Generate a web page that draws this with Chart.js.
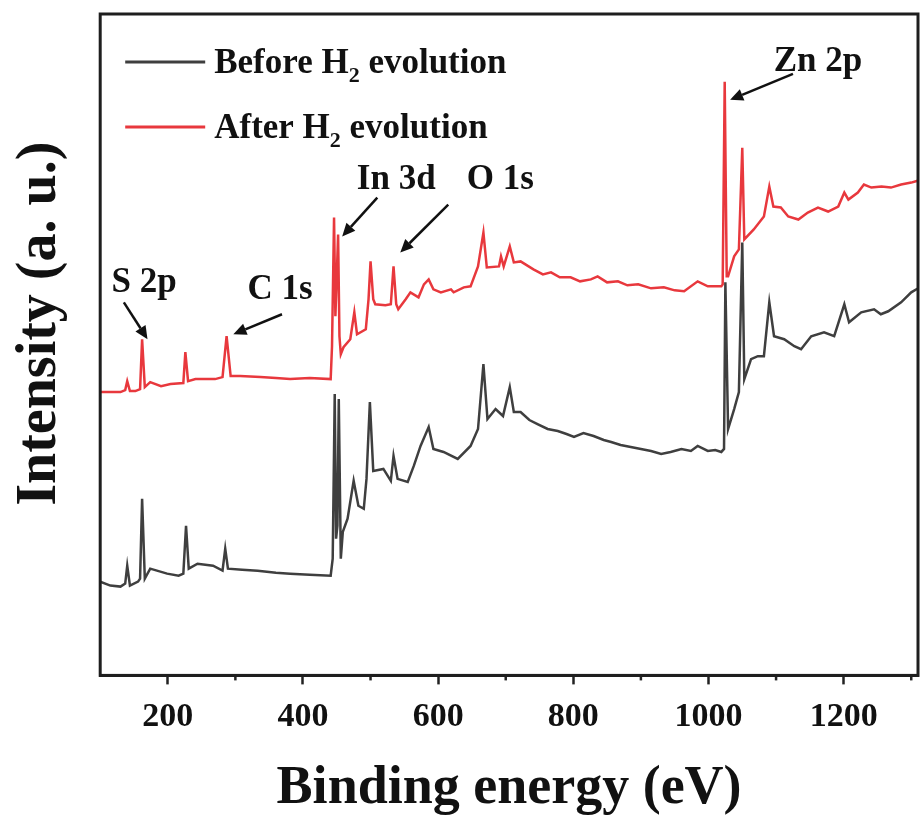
<!DOCTYPE html>
<html>
<head>
<meta charset="utf-8">
<script src="https://cdn.jsdelivr.net/npm/chart.js@4.4.1/dist/chart.umd.min.js"></script>
<style>
  html, body { margin: 0; padding: 0; background: #ffffff; }
  #wrap { width: 921px; height: 821px; position: relative; }
</style>
</head>
<body>
<div id="wrap"><canvas id="c" width="921" height="821"></canvas></div>
<script>
// ---- data ----
const beforeEnergy = [100,115,130,137,140,144,156,159,162,166,174,199,216,223,227,231,244,267,281,285,289,310,333,360,381,410,441,444,447,449,451,453,456,459,466,475,482,490,494,499,504,519,530,534,540,555,564,574,586,593,608,629,648,659,667,673,685,696,706,712,722,735,747,762,777,790,801,815,830,845,856,870,885,900,915,930,944,960,974,984,999,1010,1019,1023,1025,1029,1038,1045,1050,1053,1063,1073,1082,1090,1097,1112,1127,1137,1152,1171,1186,1201,1208,1226,1245,1255,1266,1285,1300,1315];
const beforeIntensity = [94,90,89,92,110,90,94,97,177,97,107,102,100,102,150,107,112,110,105,127,107,106,105,103,102,101,100,117,282,137,150,277,117,144,157,195,170,167,197,274,205,207,195,220,197,194,210,230,249,227,224,217,230,247,312,257,267,260,289,264,264,256,252,247,245,242,239,243,240,236,234,231,229,227,225,222,224,227,225,230,225,226,224,227,394,247,267,284,434,297,317,320,320,374,340,337,330,327,340,344,340,372,354,364,367,362,365,374,384,390];

const afterEnergy = [100,130,137,140,144,152,159,162,166,174,190,204,223,226,230,241,270,281,287,293,307,337,360,381,410,441,443,446,448,450,452,454,456,460,470,476,480,493,497,500,504,507,522,530,534,538,541,552,559,571,579,586,593,604,619,623,638,648,659,667,672,690,693,697,706,712,722,741,755,767,780,796,810,826,836,850,866,880,896,915,934,950,964,984,999,1019,1021,1024,1027,1029,1038,1045,1050,1053,1067,1082,1090,1096,1107,1118,1133,1147,1162,1177,1192,1201,1207,1221,1230,1241,1256,1270,1285,1300,1315];
const afterIntensity = [284,284,286,295,285,285,287,337,289,294,290,292,293,324,295,297,297,299,340,300,300,299,298,297,298,297,330,459,360,400,442,340,322,329,337,364,342,347,377,415,377,372,371,372,410,372,367,377,384,379,392,397,387,384,387,384,389,390,410,444,409,410,420,410,430,414,415,407,402,404,399,399,395,397,400,394,395,391,392,388,389,386,385,395,390,390,392,595,400,400,420,427,529,437,447,460,490,470,469,460,457,464,469,465,470,484,477,484,492,489,490,489,492,494,497];

const seriesNames = ['Before H2 evolution', 'After H2 evolution'];
const majorTicks = [200, 400, 600, 800, 1000, 1200];
const minorTicks = [300, 500, 700, 900, 1100, 1300];
const peakNames = ['S 2p', 'C 1s', 'In 3d', 'O 1s', 'Zn 2p'];

// ---- styling / placement (not data) ----
const COLORS = ['#3f3f3f', '#e8383d'];
const SERIF = '"Liberation Serif", "Times New Roman", serif';
// label centre, arrow start, arrow tip  (in axis units)
const peakPlacement = {
  'S 2p':  { text: [165, 393], from: [135, 374], to: [170, 337] },
  'C 1s':  { text: [366, 386], from: [369, 362], to: [297, 342] },
  'In 3d': { text: [538, 497], from: [510, 479], to: [458, 440] },
  'O 1s':  { text: [692, 497], from: [615, 472], to: [544, 424] },
  'Zn 2p': { text: [1162, 615], from: [1125, 603], to: [1032, 577] }
};

function pts(xs, ys) { return xs.map((x, i) => ({ x: x, y: ys[i] })); }

const framePlugin = {
  id: 'frame',
  afterDraw(chart) {
    const { ctx, chartArea: a, scales } = chart;
    ctx.save();
    ctx.strokeStyle = '#222';
    ctx.lineWidth = 2.5;
    minorTicks.forEach(v => {
      const px = scales.x.getPixelForValue(v);
      if (px < a.left || px > a.right) return;
      ctx.beginPath();
      ctx.moveTo(px, a.bottom);
      ctx.lineTo(px, a.bottom + 5);
      ctx.stroke();
    });
    ctx.lineWidth = 3;
    ctx.strokeStyle = '#1e1e1e';
    ctx.strokeRect(a.left, a.top, a.right - a.left, a.bottom - a.top);
    ctx.restore();
  }
};

function drawSubText(ctx, x, y, parts, size) {
  ctx.font = 'bold ' + size + 'px ' + SERIF;
  ctx.textBaseline = 'alphabetic';
  ctx.textAlign = 'left';
  ctx.fillText(parts[0], x, y);
  x += ctx.measureText(parts[0]).width;
  ctx.font = 'bold ' + Math.round(size * 0.62) + 'px ' + SERIF;
  ctx.fillText(parts[1], x, y + size * 0.25);
  x += ctx.measureText(parts[1]).width;
  ctx.font = 'bold ' + size + 'px ' + SERIF;
  ctx.fillText(parts[2], x, y);
}

const legendPlugin = {
  id: 'subLegend',
  afterDraw(chart) {
    const { ctx, chartArea: a } = chart;
    ctx.save();
    chart.data.datasets.forEach((ds, i) => {
      const y = a.top + 48 + i * 65;
      ctx.strokeStyle = ds.borderColor;
      ctx.lineWidth = 3;
      ctx.beginPath();
      ctx.moveTo(a.left + 25, y);
      ctx.lineTo(a.left + 105, y);
      ctx.stroke();
      ctx.fillStyle = '#111';
      const name = seriesNames[i];
      const k = name.indexOf('H2');
      drawSubText(ctx, a.left + 114, y + 11, [name.slice(0, k + 1), '2', name.slice(k + 2)], 35);
    });
    ctx.restore();
  }
};

const peakPlugin = {
  id: 'peaks',
  afterDraw(chart) {
    const { ctx, scales } = chart;
    const X = v => scales.x.getPixelForValue(v);
    const Y = v => scales.y.getPixelForValue(v);
    ctx.save();
    ctx.fillStyle = '#111';
    ctx.strokeStyle = '#111';
    ctx.font = 'bold 35px ' + SERIF;
    ctx.textAlign = 'center';
    ctx.textBaseline = 'middle';
    peakNames.forEach(n => {
      const p = peakPlacement[n];
      ctx.fillText(n, X(p.text[0]), Y(p.text[1]));
      const x1 = X(p.from[0]), y1 = Y(p.from[1]);
      const x2 = X(p.to[0]), y2 = Y(p.to[1]);
      const ang = Math.atan2(y2 - y1, x2 - x1);
      const hl = 13, hw = 6;
      const bx = x2 - hl * Math.cos(ang), by = y2 - hl * Math.sin(ang);
      ctx.lineWidth = 2.5;
      ctx.beginPath();
      ctx.moveTo(x1, y1);
      ctx.lineTo(bx, by);
      ctx.stroke();
      ctx.beginPath();
      ctx.moveTo(x2, y2);
      ctx.lineTo(bx + hw * Math.sin(ang), by - hw * Math.cos(ang));
      ctx.lineTo(bx - hw * Math.sin(ang), by + hw * Math.cos(ang));
      ctx.closePath();
      ctx.fill();
    });
    ctx.restore();
  }
};

new Chart(document.getElementById('c'), {
  type: 'line',
  data: {
    datasets: [
      { label: seriesNames[0], data: pts(beforeEnergy, beforeIntensity), borderColor: COLORS[0], borderWidth: 2.5, pointRadius: 0, tension: 0, fill: false },
      { label: seriesNames[1], data: pts(afterEnergy, afterIntensity), borderColor: COLORS[1], borderWidth: 2.5, pointRadius: 0, tension: 0, fill: false }
    ]
  },
  options: {
    responsive: false,
    animation: false,
    devicePixelRatio: 1,
    layout: { padding: { left: 4, right: 3, top: 14, bottom: 0 } },
    plugins: { legend: { display: false }, tooltip: { enabled: false } },
    scales: {
      x: {
        type: 'linear',
        min: 100,
        max: 1310,
        afterBuildTicks: s => { s.ticks = majorTicks.map(v => ({ value: v })); },
        ticks: {
          color: '#111',
          font: { family: SERIF, size: 34, weight: 'bold' },
          padding: 12,
          maxRotation: 0,
          autoSkip: false,
          callback: v => String(v)
        },
        grid: { drawOnChartArea: false, tickLength: 9, tickWidth: 2.5, tickColor: '#222' },
        border: { color: '#1e1e1e', width: 3 },
        title: {
          display: true,
          text: 'Binding energy (eV)',
          color: '#111',
          font: { family: SERIF, size: 54, weight: 'bold' },
          padding: { top: 7, bottom: 0 }
        }
      },
      y: {
        type: 'linear',
        min: 0,
        max: 663,
        ticks: { display: false },
        grid: { display: false, drawTicks: false },
        border: { display: false },
        title: {
          display: true,
          text: '   Intensity (a. u.)',
          color: '#111',
          font: { family: SERIF, size: 56, weight: 'bold' },
          padding: { top: 3, bottom: 26 }
        }
      }
    }
  },
  plugins: [framePlugin, legendPlugin, peakPlugin]
});
</script>
</body>
</html>
